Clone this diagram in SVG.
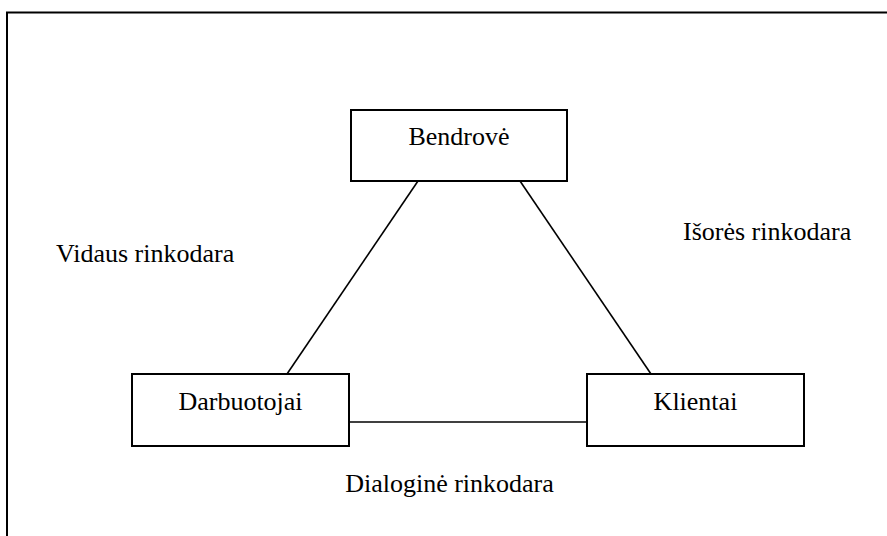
<svg xmlns="http://www.w3.org/2000/svg" width="887" height="536" viewBox="0 0 887 536">
  <style>
    .frame { fill: none; stroke: #000; stroke-width: 2; }
    .box { fill: #fff; stroke: #000; stroke-width: 2; }
    .link { stroke: #000; stroke-width: 1.6; fill: none; }
    text { font-family: "Liberation Serif", "Times New Roman", serif; font-size: 26px; fill: #000; }
    .c { text-anchor: middle; }
  </style>
  <rect width="887" height="536" fill="#fff"/>
  <!-- outer frame, running off the right and bottom edges -->
  <rect class="frame" x="7" y="12.5" width="900" height="600"/>

  <g id="connectors">
    <line class="link" x1="418" y1="181" x2="287" y2="374"/>
    <line class="link" x1="520" y1="181" x2="651" y2="374"/>
    <line class="link" x1="349" y1="422" x2="587" y2="422"/>
  </g>

  <g id="bendrove">
    <rect class="box" x="351" y="110" width="216" height="71"/>
    <text class="c" x="459" y="145">Bendrovė</text>
  </g>
  <g id="darbuotojai">
    <rect class="box" x="132" y="374" width="217" height="72"/>
    <text class="c" x="240.5" y="410">Darbuotojai</text>
  </g>
  <g id="klientai">
    <rect class="box" x="587" y="374" width="217" height="72"/>
    <text class="c" x="695.5" y="410">Klientai</text>
  </g>

  <g id="labels">
    <text x="56" y="262">Vidaus rinkodara</text>
    <text x="683" y="240">Išorės rinkodara</text>
    <text class="c" x="449.5" y="492">Dialoginė rinkodara</text>
  </g>
</svg>
